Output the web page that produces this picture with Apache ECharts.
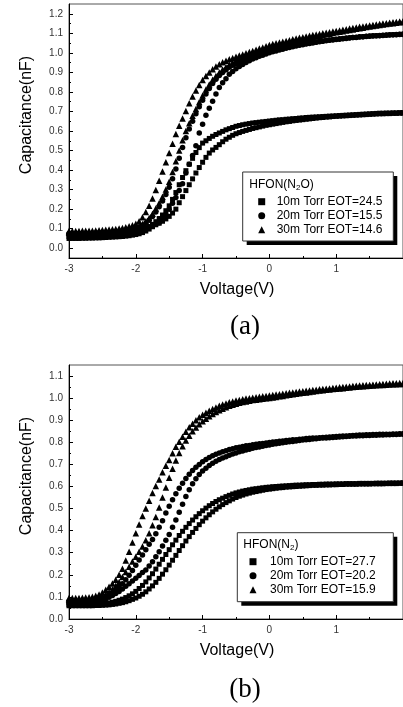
<!DOCTYPE html>
<html><head><meta charset="utf-8">
<script src="https://cdn.jsdelivr.net/npm/echarts@6/dist/echarts.min.js"></script>
<style>html,body{margin:0;padding:0;background:#fff}#c{width:403px;height:707px}</style>
</head><body><div id="c"></div>
<script>
// Gate voltage (V) sample positions shared by all sweeps
const V = [-3.0,-2.95,-2.9,-2.85,-2.8,-2.75,-2.7,-2.65,-2.6,-2.55,
-2.5,-2.45,-2.4,-2.35,-2.3,-2.25,-2.2,-2.15,-2.1,-2.05,
-2.0,-1.95,-1.9,-1.85,-1.8,-1.75,-1.7,-1.65,-1.6,-1.55,
-1.5,-1.45,-1.4,-1.35,-1.3,-1.25,-1.2,-1.15,-1.1,-1.05,
-1.0,-0.95,-0.9,-0.85,-0.8,-0.75,-0.7,-0.65,-0.6,-0.55,
-0.5,-0.45,-0.4,-0.35,-0.3,-0.25,-0.2,-0.15,-0.1,-0.05,
0.0,0.05,0.1,0.15,0.2,0.25,0.3,0.35,0.4,0.45,
0.5,0.55,0.6,0.65,0.7,0.75,0.8,0.85,0.9,0.95,
1.0,1.05,1.1,1.15,1.2,1.25,1.3,1.35,1.4,1.45,
1.5,1.55,1.6,1.65,1.7,1.75,1.8,1.85,1.9,1.95,
2.0];

// (a) HFON(N2O) — two sweep branches per pressure (capacitance, nF)
const a10A = [0.060,0.060,0.060,0.061,0.061,0.061,0.062,0.062,0.063,0.063,
0.064,0.065,0.066,0.067,0.068,0.069,0.071,0.073,0.076,0.079,
0.082,0.087,0.093,0.100,0.110,0.122,0.136,0.152,0.170,0.192,
0.217,0.250,0.285,0.325,0.362,0.397,0.430,0.460,0.490,0.515,
0.538,0.550,0.562,0.573,0.582,0.590,0.598,0.606,0.612,0.618,
0.624,0.628,0.632,0.635,0.638,0.641,0.643,0.645,0.647,0.649,
0.651,0.653,0.655,0.657,0.658,0.660,0.661,0.663,0.664,0.666,
0.667,0.669,0.670,0.671,0.672,0.673,0.674,0.675,0.676,0.677,
0.678,0.679,0.680,0.681,0.682,0.683,0.684,0.685,0.686,0.687,
0.688,0.689,0.690,0.691,0.691,0.692,0.692,0.693,0.693,0.694,
0.694];
const a10B = [0.050,0.050,0.050,0.050,0.051,0.051,0.052,0.052,0.053,0.053,
0.054,0.055,0.056,0.057,0.058,0.059,0.060,0.062,0.064,0.067,
0.070,0.074,0.080,0.088,0.098,0.110,0.120,0.128,0.138,0.150,
0.163,0.180,0.200,0.233,0.264,0.295,0.325,0.355,0.385,0.413,
0.440,0.465,0.487,0.503,0.516,0.530,0.545,0.558,0.568,0.578,
0.586,0.592,0.598,0.603,0.608,0.613,0.617,0.621,0.625,0.629,
0.632,0.635,0.638,0.641,0.644,0.647,0.649,0.652,0.654,0.656,
0.658,0.660,0.662,0.664,0.666,0.668,0.669,0.671,0.672,0.674,
0.675,0.676,0.677,0.678,0.679,0.680,0.681,0.682,0.683,0.684,
0.685,0.686,0.687,0.688,0.688,0.689,0.689,0.690,0.690,0.691,
0.691];
const a20A = [0.075,0.075,0.075,0.075,0.076,0.076,0.077,0.077,0.078,0.079,
0.080,0.081,0.082,0.083,0.085,0.087,0.089,0.092,0.095,0.097,
0.100,0.107,0.116,0.128,0.143,0.162,0.185,0.212,0.242,0.275,
0.312,0.355,0.405,0.460,0.515,0.565,0.610,0.650,0.688,0.724,
0.758,0.790,0.818,0.843,0.865,0.884,0.900,0.914,0.926,0.937,
0.946,0.954,0.962,0.969,0.975,0.981,0.987,0.993,0.998,1.003,
1.008,1.013,1.017,1.021,1.025,1.029,1.032,1.036,1.039,1.042,
1.045,1.048,1.051,1.054,1.056,1.059,1.061,1.064,1.066,1.068,
1.070,1.072,1.074,1.076,1.077,1.079,1.080,1.082,1.083,1.085,
1.086,1.087,1.088,1.089,1.090,1.091,1.092,1.093,1.094,1.095,
1.096];
const a20B = [0.070,0.070,0.070,0.070,0.071,0.071,0.072,0.072,0.073,0.073,
0.074,0.075,0.076,0.077,0.078,0.079,0.081,0.083,0.085,0.087,
0.090,0.095,0.100,0.105,0.110,0.117,0.124,0.130,0.148,0.172,
0.200,0.230,0.260,0.295,0.330,0.385,0.430,0.475,0.525,0.590,
0.635,0.680,0.717,0.752,0.790,0.822,0.847,0.868,0.890,0.905,
0.918,0.930,0.940,0.950,0.960,0.968,0.975,0.982,0.988,0.994,
1.000,1.005,1.010,1.015,1.019,1.023,1.027,1.031,1.035,1.039,
1.042,1.045,1.048,1.051,1.054,1.057,1.059,1.062,1.064,1.066,
1.068,1.070,1.072,1.074,1.076,1.078,1.079,1.081,1.082,1.084,
1.085,1.086,1.087,1.088,1.089,1.090,1.091,1.092,1.093,1.094,
1.094];
const a30A = [0.088,0.088,0.088,0.088,0.089,0.089,0.090,0.090,0.091,0.092,
0.093,0.094,0.096,0.097,0.099,0.101,0.104,0.108,0.112,0.118,
0.125,0.138,0.158,0.185,0.218,0.255,0.298,0.345,0.393,0.440,
0.487,0.535,0.585,0.627,0.664,0.703,0.742,0.777,0.807,0.836,
0.861,0.882,0.900,0.916,0.930,0.942,0.952,0.960,0.967,0.974,
0.980,0.986,0.992,0.998,1.004,1.010,1.016,1.022,1.028,1.034,
1.040,1.045,1.049,1.053,1.057,1.061,1.065,1.069,1.073,1.077,
1.080,1.084,1.087,1.091,1.094,1.097,1.100,1.103,1.106,1.109,
1.112,1.115,1.118,1.121,1.124,1.127,1.130,1.133,1.135,1.138,
1.140,1.143,1.145,1.148,1.150,1.152,1.154,1.156,1.158,1.160,
1.162];
const a30B = [0.080,0.080,0.080,0.080,0.081,0.081,0.082,0.082,0.083,0.084,
0.085,0.086,0.087,0.088,0.090,0.092,0.094,0.096,0.099,0.102,
0.105,0.113,0.124,0.138,0.155,0.177,0.203,0.232,0.264,0.300,
0.340,0.390,0.445,0.500,0.553,0.600,0.640,0.678,0.713,0.748,
0.782,0.812,0.838,0.862,0.882,0.900,0.915,0.928,0.940,0.951,
0.960,0.970,0.978,0.985,0.992,0.999,1.005,1.011,1.017,1.023,
1.028,1.033,1.038,1.043,1.047,1.051,1.055,1.059,1.063,1.067,
1.070,1.074,1.077,1.081,1.084,1.088,1.091,1.095,1.098,1.102,
1.105,1.108,1.111,1.114,1.117,1.120,1.123,1.126,1.129,1.132,
1.135,1.138,1.140,1.143,1.145,1.148,1.150,1.152,1.154,1.156,
1.158];

// (b) HFON(N2)
const b10A = [0.065,0.065,0.065,0.065,0.065,0.065,0.066,0.066,0.067,0.068,
0.069,0.071,0.073,0.076,0.080,0.085,0.090,0.097,0.105,0.114,
0.125,0.138,0.152,0.168,0.186,0.205,0.226,0.248,0.270,0.292,
0.314,0.336,0.357,0.378,0.397,0.415,0.432,0.448,0.463,0.477,
0.490,0.502,0.513,0.523,0.532,0.540,0.547,0.554,0.560,0.566,
0.571,0.575,0.579,0.582,0.585,0.588,0.590,0.592,0.594,0.596,
0.597,0.599,0.600,0.601,0.602,0.603,0.604,0.605,0.606,0.606,
0.607,0.608,0.608,0.609,0.609,0.610,0.610,0.611,0.611,0.611,
0.612,0.612,0.612,0.613,0.613,0.613,0.613,0.614,0.614,0.614,
0.614,0.614,0.615,0.615,0.615,0.615,0.616,0.616,0.616,0.616,
0.617];
const b10B = [0.060,0.060,0.060,0.060,0.060,0.060,0.060,0.060,0.061,0.061,
0.062,0.063,0.064,0.066,0.068,0.071,0.074,0.078,0.083,0.089,
0.095,0.103,0.112,0.123,0.136,0.150,0.166,0.184,0.203,0.223,
0.244,0.266,0.288,0.310,0.332,0.353,0.373,0.392,0.410,0.427,
0.443,0.458,0.472,0.485,0.497,0.508,0.518,0.527,0.535,0.543,
0.550,0.556,0.561,0.566,0.570,0.574,0.577,0.580,0.583,0.586,
0.588,0.590,0.592,0.594,0.595,0.597,0.598,0.599,0.600,0.601,
0.602,0.603,0.604,0.605,0.605,0.606,0.606,0.607,0.607,0.608,
0.608,0.609,0.609,0.610,0.610,0.610,0.610,0.611,0.611,0.611,
0.611,0.612,0.612,0.612,0.612,0.613,0.613,0.613,0.613,0.614,
0.614];
const b20A = [0.080,0.080,0.080,0.080,0.080,0.080,0.081,0.082,0.083,0.086,
0.090,0.097,0.105,0.117,0.130,0.145,0.160,0.178,0.198,0.220,
0.243,0.267,0.290,0.314,0.338,0.360,0.386,0.415,0.445,0.480,
0.510,0.540,0.567,0.592,0.615,0.636,0.655,0.672,0.687,0.700,
0.712,0.722,0.731,0.739,0.746,0.752,0.757,0.762,0.767,0.771,
0.775,0.778,0.781,0.784,0.786,0.789,0.791,0.793,0.795,0.797,
0.799,0.801,0.803,0.805,0.806,0.808,0.809,0.811,0.812,0.814,
0.815,0.817,0.818,0.819,0.820,0.821,0.822,0.823,0.824,0.825,
0.826,0.827,0.828,0.829,0.830,0.831,0.832,0.833,0.833,0.834,
0.834,0.835,0.835,0.836,0.836,0.837,0.837,0.838,0.838,0.839,
0.839];
const b20B = [0.070,0.070,0.070,0.070,0.071,0.072,0.073,0.075,0.077,0.080,
0.085,0.091,0.098,0.106,0.115,0.125,0.136,0.148,0.160,0.172,
0.184,0.197,0.210,0.222,0.240,0.259,0.282,0.305,0.330,0.357,
0.383,0.415,0.448,0.483,0.520,0.555,0.585,0.612,0.635,0.654,
0.670,0.683,0.695,0.705,0.714,0.722,0.729,0.735,0.741,0.747,
0.752,0.757,0.761,0.765,0.769,0.773,0.776,0.779,0.782,0.785,
0.788,0.791,0.793,0.796,0.798,0.800,0.802,0.804,0.806,0.808,
0.810,0.812,0.813,0.815,0.816,0.818,0.819,0.820,0.821,0.822,
0.823,0.824,0.825,0.826,0.827,0.828,0.829,0.830,0.830,0.831,
0.831,0.832,0.832,0.833,0.833,0.834,0.834,0.835,0.835,0.836,
0.836];
const b30A = [0.095,0.095,0.095,0.095,0.096,0.097,0.098,0.101,0.105,0.111,
0.120,0.132,0.146,0.161,0.178,0.200,0.228,0.265,0.305,0.346,
0.388,0.428,0.466,0.500,0.535,0.570,0.602,0.632,0.664,0.694,
0.720,0.750,0.780,0.803,0.825,0.848,0.868,0.884,0.900,0.914,
0.925,0.934,0.943,0.951,0.958,0.965,0.971,0.976,0.981,0.985,
0.989,0.992,0.995,0.998,1.000,1.002,1.004,1.006,1.008,1.010,
1.012,1.014,1.016,1.018,1.020,1.022,1.024,1.026,1.028,1.030,
1.031,1.033,1.035,1.037,1.038,1.040,1.041,1.043,1.044,1.046,
1.047,1.049,1.050,1.052,1.053,1.055,1.056,1.057,1.058,1.059,
1.060,1.061,1.062,1.063,1.064,1.065,1.066,1.067,1.067,1.068,
1.068];
const b30B = [0.088,0.088,0.088,0.088,0.089,0.089,0.090,0.092,0.095,0.099,
0.105,0.112,0.122,0.135,0.150,0.168,0.190,0.213,0.237,0.260,
0.282,0.304,0.328,0.356,0.388,0.425,0.462,0.505,0.550,0.595,
0.640,0.680,0.718,0.752,0.782,0.808,0.830,0.850,0.867,0.882,
0.895,0.907,0.918,0.928,0.937,0.945,0.952,0.959,0.965,0.970,
0.975,0.979,0.982,0.985,0.988,0.991,0.993,0.995,0.997,0.999,
1.001,1.003,1.005,1.008,1.010,1.013,1.015,1.018,1.020,1.022,
1.024,1.026,1.028,1.030,1.032,1.034,1.036,1.038,1.039,1.041,
1.042,1.044,1.045,1.047,1.048,1.050,1.051,1.053,1.054,1.055,
1.056,1.057,1.058,1.059,1.060,1.061,1.062,1.063,1.063,1.064,
1.064];

const namesA = ['10m Torr EOT=24.5','20m Torr EOT=15.5','30m Torr EOT=14.6'];
const namesB = ['10m Torr EOT=27.7','20m Torr EOT=20.2','30m Torr EOT=15.9'];
const xMajor = [-3,-2,-1,0,1,2];
const xLabels = [-3,-2,-1,0,1];
const xMinor = [-2.5,-1.5,-0.5,0.5,1.5];
const yTicksA = [0,0.1,0.2,0.3,0.4,0.5,0.6,0.7,0.8,0.9,1.0,1.1,1.2];
const yMinorA = [0.05,0.15,0.25,0.35,0.45,0.55,0.65,0.75,0.85,0.95,1.05,1.15];
const yTicksB = [0,0.1,0.2,0.3,0.4,0.5,0.6,0.7,0.8,0.9,1.0,1.1];
const yMinorB = [0.05,0.15,0.25,0.35,0.45,0.55,0.65,0.75,0.85,0.95,1.05];

const SANS = '"Liberation Sans", Arial, sans-serif';
const SERIF = '"Liberation Serif", "Times New Roman", serif';

function pts(a, b) {
  const n = Math.min(V.length, a.length, b.length);
  const out = [];
  for (let i = 0; i < n; i++) out.push([V[i], a[i]]);
  for (let i = 0; i < n; i++) out.push([V[i], b[i]]);
  return out;
}
function xAxes(g) {
  return [
    {gridIndex:g, type:'value', min:-3, max:2, position:'bottom',
     axisLine:{onZero:false, lineStyle:{color:'#000', width:1}},
     axisTick:{inside:true, length:4, customValues:xMajor, lineStyle:{color:'#000'}},
     axisLabel:{customValues:xLabels, margin:6, fontSize:10, color:'#333', fontFamily:SANS},
     splitLine:{show:false}},
    {gridIndex:g, type:'value', min:-3, max:2, position:'bottom',
     axisLine:{show:false, onZero:false},
     axisTick:{inside:true, length:2, customValues:xMinor, lineStyle:{color:'#000'}},
     axisLabel:{show:false}, splitLine:{show:false}}
  ];
}
function yAxes(g, mn, mx, major, minor) {
  return [
    {gridIndex:g, type:'value', min:mn, max:mx, position:'left',
     axisLine:{show:true, onZero:false, lineStyle:{color:'#000', width:1}},
     axisTick:{inside:true, length:4, customValues:major, lineStyle:{color:'#000'}},
     axisLabel:{customValues:major, formatter:v => v.toFixed(1), margin:6, fontSize:10, color:'#333', fontFamily:SANS},
     splitLine:{show:false}},
    {gridIndex:g, type:'value', min:mn, max:mx, position:'left',
     axisLine:{show:false, onZero:false},
     axisTick:{inside:true, length:2, customValues:minor, lineStyle:{color:'#000'}},
     axisLabel:{show:false}, splitLine:{show:false}}
  ];
}
function sc(name, sym, size, xi, yi, data) {
  return {type:'scatter', name, symbol:sym, symbolSize:size, xAxisIndex:xi, yAxisIndex:yi,
    itemStyle:{color:'#000', opacity:1}, data, silent:true};
}
function legendBox(x, y, w, h, tx, ty, sub) {
  return [
    {type:'rect', z:10, shape:{x:x+4, y:y+4, width:w, height:h}, style:{fill:'#000'}},
    {type:'rect', z:11, shape:{x, y, width:w, height:h}, style:{fill:'#fff', stroke:'#333', lineWidth:1}},
    {type:'text', z:12, x:tx, y:ty, style:{
      text: sub, textAlign:'left', textVerticalAlign:'middle', verticalAlign:'middle',
      rich:{n:{fontSize:12, fontFamily:SANS, fill:'#000', lineHeight:14},
            s:{fontSize:8, fontFamily:SANS, fill:'#000', lineHeight:8, verticalAlign:'bottom'}}}}
  ];
}
function txt(x, y, t, font, rot) {
  return {type:'text', z:5, x, y, rotation:rot || 0, style:{text:t, font, fill:'#000', textAlign:'center', textVerticalAlign:'middle', verticalAlign:'middle'}};
}
function legend(names, left, top, pad) {
  const icons = ['rect','circle','triangle'];
  return {orient:'vertical', left, top, itemWidth:7, itemHeight:7, itemGap:0, z:20,
    selectedMode:false, padding:0,
    itemStyle:{color:'#000', opacity:1},
    textStyle:{fontSize:12, fontFamily:SANS, color:'#000', lineHeight:14, padding:[0,0,0,pad]},
    data: names.map((n, i) => ({name:n, icon:icons[i]}))};
}

const chart = echarts.init(document.getElementById('c'), null, {renderer:'canvas'});
chart.setOption({
  animation:false,
  backgroundColor:'#fff',
  grid:[
    {left:69, top:4, width:337, height:254, show:true, borderColor:'#555', borderWidth:1},
    {left:69, top:365, width:337, height:254, show:true, borderColor:'#555', borderWidth:1}
  ],
  xAxis: xAxes(0).concat(xAxes(1)),
  yAxis: yAxes(0, -0.05, 1.25, yTicksA, yMinorA).concat(yAxes(1, 0, 1.15, yTicksB, yMinorB)),
  legend:[ legend(namesA, 258.2, 194.7, 6.5), legend(namesB, 249.5, 554.7, 8.5) ],
  series:[
    sc(namesA[0], 'rect', 5, 0, 0, pts(a10A, a10B)),
    sc(namesA[1], 'circle', 5.5, 0, 0, pts(a20A, a20B)),
    sc(namesA[2], 'triangle', 6.5, 0, 0, pts(a30A, a30B)),
    sc(namesB[0], 'rect', 5, 2, 2, pts(b10A, b10B)),
    sc(namesB[1], 'circle', 5.5, 2, 2, pts(b20A, b20B)),
    sc(namesB[2], 'triangle', 6.5, 2, 2, pts(b30A, b30B))
  ],
  graphic:{elements:[
    txt(27, 115, 'Capacitance(nF)', '16px ' + SANS, Math.PI/2),
    txt(237, 290, 'Voltage(V)', '16px ' + SANS),
    txt(245, 327, '(a)', '27px ' + SERIF),
    txt(27, 476, 'Capacitance(nF)', '16px ' + SANS, Math.PI/2),
    txt(237, 651, 'Voltage(V)', '16px ' + SANS),
    txt(245, 690, '(b)', '27px ' + SERIF)
  ].concat(legendBox(242.7, 172, 150.6, 69, 249.3, 185, '{n|HFON(N}{s|2}{n|O)}'))
   .concat(legendBox(237.3, 532.7, 156, 69, 243.3, 545, '{n|HFON(N}{s|2}{n|)}'))}
});
</script>
</body></html>
